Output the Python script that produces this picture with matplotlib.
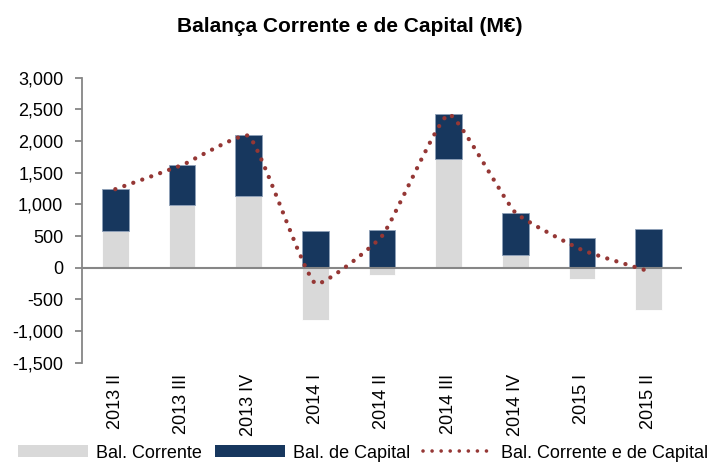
import numpy as np
import matplotlib
matplotlib.use("Agg")
import matplotlib.pyplot as plt
import matplotlib.ticker as mticker
from matplotlib.path import Path
from matplotlib.patches import PathPatch, Patch
from matplotlib.lines import Line2D

plt.rcParams['font.family'] = ['Liberation Sans', 'DejaVu Sans']

# dados (M€)
trimestres = ["2013 II", "2013 III", "2013 IV", "2014 I", "2014 II",
              "2014 III", "2014 IV", "2015 I", "2015 II"]
bal_corrente = [580, 990, 1140, -830, -110, 1715, 195, -180, -660]
bal_capital = [660, 630, 950, 575, 600, 710, 675, 465, 610]
bal_total = [1240, 1620, 2080, -250, 500, 2420, 870, 280, -55]

cinza = "#D9D9D9"
azul = "#17375E"
vermelho = "#953735"
eixo = "#868686"

fig = plt.figure(figsize=(7.11, 4.63), dpi=100)
ax = fig.add_axes([82/711, 1-362.7/463, 600/711, 285/463])

x = np.arange(len(trimestres))
corr = np.array(bal_corrente, dtype=float)
cap = np.array(bal_capital, dtype=float)

ax.bar(x, corr, width=0.4, color=cinza, edgecolor="white", linewidth=0.6, zorder=2)
base = np.where(corr > 0, corr, 0)
ax.bar(x, cap, width=0.4, bottom=base, color=azul, edgecolor="#8EA0B8", linewidth=0.6, zorder=2)

ax.set_xlim(-0.5, len(trimestres) - 0.5)
ax.set_ylim(-1500, 3000)

# linha suavizada (bezier com pouca tensão, calculada em pixels)
pts = ax.transData.transform(np.column_stack([x, np.array(bal_total, dtype=float)]))
n = len(pts)
verts = [pts[0]]
codes = [Path.MOVETO]
t = 0.07
for i in range(n - 1):
    p0 = pts[max(i - 1, 0)]
    p1 = pts[i]
    p2 = pts[i + 1]
    p3 = pts[min(i + 2, n - 1)]
    d01 = np.hypot(*(p1 - p0))
    d12 = np.hypot(*(p2 - p1))
    d23 = np.hypot(*(p3 - p2))
    f1 = 2 * d12 / (d01 + d12) if d01 > 0 else 1
    f2 = 2 * d12 / (d12 + d23) if d23 > 0 else 1
    c1 = p1 + (p2 - p0) * t * f1
    c2 = p2 - (p3 - p1) * t * f2
    verts += [c1, c2, p2]
    codes += [Path.CURVE4] * 3
verts = ax.transData.inverted().transform(np.array(verts))
linha = PathPatch(Path(verts, codes), fill=False, edgecolor=vermelho, lw=3.1,
                  linestyle=(0, (0.01, 2.2)), capstyle="round", zorder=3)
ax.add_patch(linha)

ax.axhline(0, color=eixo, lw=1.5, zorder=2.5)

ax.set_yticks(np.arange(-1500, 3001, 500))
ax.yaxis.set_major_formatter(mticker.FuncFormatter(lambda v, p: f"{v:,.0f}"))
ax.set_xticks(x)
ax.set_xticklabels(trimestres, rotation=90)
ax.tick_params(axis="x", length=0, pad=8, labelsize=13)
ax.tick_params(axis="y", length=5, width=1.3, color=eixo, pad=8.5, labelsize=13)

for s in ["top", "right", "bottom"]:
    ax.spines[s].set_visible(False)
ax.spines["left"].set_color(eixo)
ax.spines["left"].set_linewidth(1.3)

fig.text(350/711, 1 - 26/463, "Balança Corrente e de Capital (M€)", ha="center", va="center",
         fontsize=15, fontweight="bold")

handles = [Patch(facecolor=cinza, edgecolor="none"),
           Patch(facecolor=azul, edgecolor="none"),
           Line2D([0], [0], color=vermelho, lw=2.6, linestyle=(0, (0.01, 2.5)),
                  dash_capstyle="round")]
labels = ["Bal. Corrente", "Bal. de Capital", "Bal. Corrente e de Capital"]
fig.legend(handles, labels, loc="center", bbox_to_anchor=(363/711, 1 - 453/463), ncol=3,
           frameon=False, fontsize=13, handlelength=3.9, handleheight=0.6,
           handletextpad=0.4, columnspacing=0.75, borderpad=0)

plt.savefig("out.png", dpi=100)
